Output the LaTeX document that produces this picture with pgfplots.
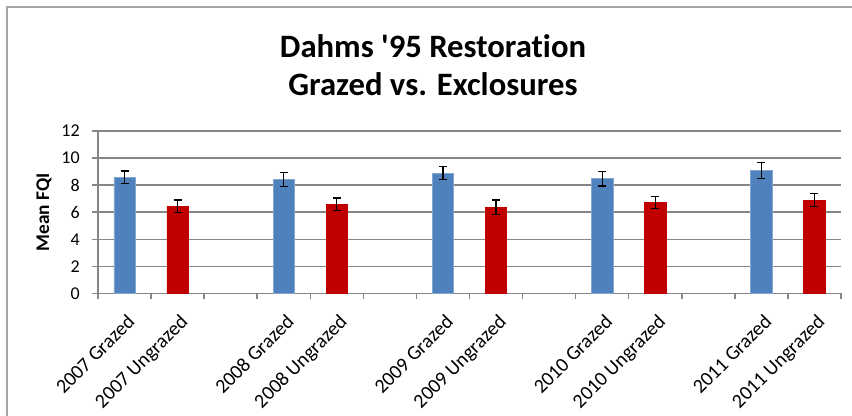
\documentclass[border=0pt]{standalone}
\usepackage{pgfplots}
\pgfplotsset{compat=1.18}
\usepackage{fontspec}
\setmainfont{Carlito}[Ligatures=NoCommon]
\newfontfamily\calfont{Carlito}[Ligatures=NoCommon]
\definecolor{gbar}{HTML}{4F81BD}
\definecolor{rbar}{HTML}{C00000}
\definecolor{gridgray}{RGB}{134,134,134}
\definecolor{framegray}{RGB}{166,166,166}
\begin{document}
\begin{tikzpicture}
\path[use as bounding box] (0pt,0pt) rectangle (639pt,-311.25pt);
\draw[framegray, line width=1.5pt] (5.25pt,-320pt) -- (5.25pt,-5.25pt) -- (650pt,-5.25pt);
\node[anchor=base, align=center, font=\calfont\fontsize{24.5}{28.5}\selectfont\bfseries] at (324.75pt,-71.25pt) {Dahms '95 Restoration\\Grazed vs. Exclosures};
\begin{axis}[
  at={(73.5pt,-220pt)}, anchor=south west,
  scale only axis, width=557.25pt, height=121.7pt,
  xmin=-0.5, xmax=13.5, ymin=0, ymax=12,
  ytick={0,2,...,12},
  xtick={-0.5,0.5,...,12.5},
  extra x ticks={13.5}, extra x tick labels={},
  xticklabels={2007 Grazed,2007 Ungrazed,,2008 Grazed,2008 Ungrazed,,2009 Grazed,2009 Ungrazed,,2010 Grazed,2010 Ungrazed,,2011 Grazed,2011 Ungrazed},
  axis x line=bottom, axis y line=left,
  axis line style={draw=gridgray, line width=1.1pt, -},
  tick style={draw=gridgray, line width=1.1pt},
  tick align=outside, major tick length=4.5pt,
  ymajorgrids, xmajorgrids=false,
  grid style={draw=gridgray, line width=1.1pt},
  /pgf/number format/assume math mode=true,
  yticklabel style={font=\fontsize{13.5}{16}\selectfont, inner sep=0pt, xshift=-9pt},
  xticklabel style={font=\fontsize{15}{17}\selectfont, inner sep=0pt, xshift=21pt, yshift=-10pt, rotate=45, anchor=north east},
  ylabel={Mean FQI},
  every axis y label/.style={at={(axis description cs:0,0.5)}, xshift=-40.5pt, rotate=90, anchor=center, font=\fontsize{14.5}{16}\selectfont\bfseries},
  ybar, bar width=16pt, bar shift=0pt,
  error bars/y dir=both, error bars/y explicit,
  error bars/error bar style={black, line width=0.9pt},
  error bars/error mark options={black, line width=0.9pt, rotate=90, mark size=3pt},
  clip=false,
]
\addplot[fill=gbar, draw=gbar!70!white, line width=0.5pt] coordinates {
  (0,8.60) +- (0,0.45)
  (3,8.42) +- (0,0.52)
  (6,8.88) +- (0,0.49)
  (9,8.49) +- (0,0.55)
  (12,9.11) +- (0,0.59)
};
\addplot[fill=rbar, draw=rbar, line width=0.5pt] coordinates {
  (1,6.45) +- (0,0.46)
  (4,6.60) +- (0,0.45)
  (7,6.37) +- (0,0.54)
  (10,6.74) +- (0,0.44)
  (13,6.89) +- (0,0.48)
};
\end{axis}
\end{tikzpicture}
\end{document}
